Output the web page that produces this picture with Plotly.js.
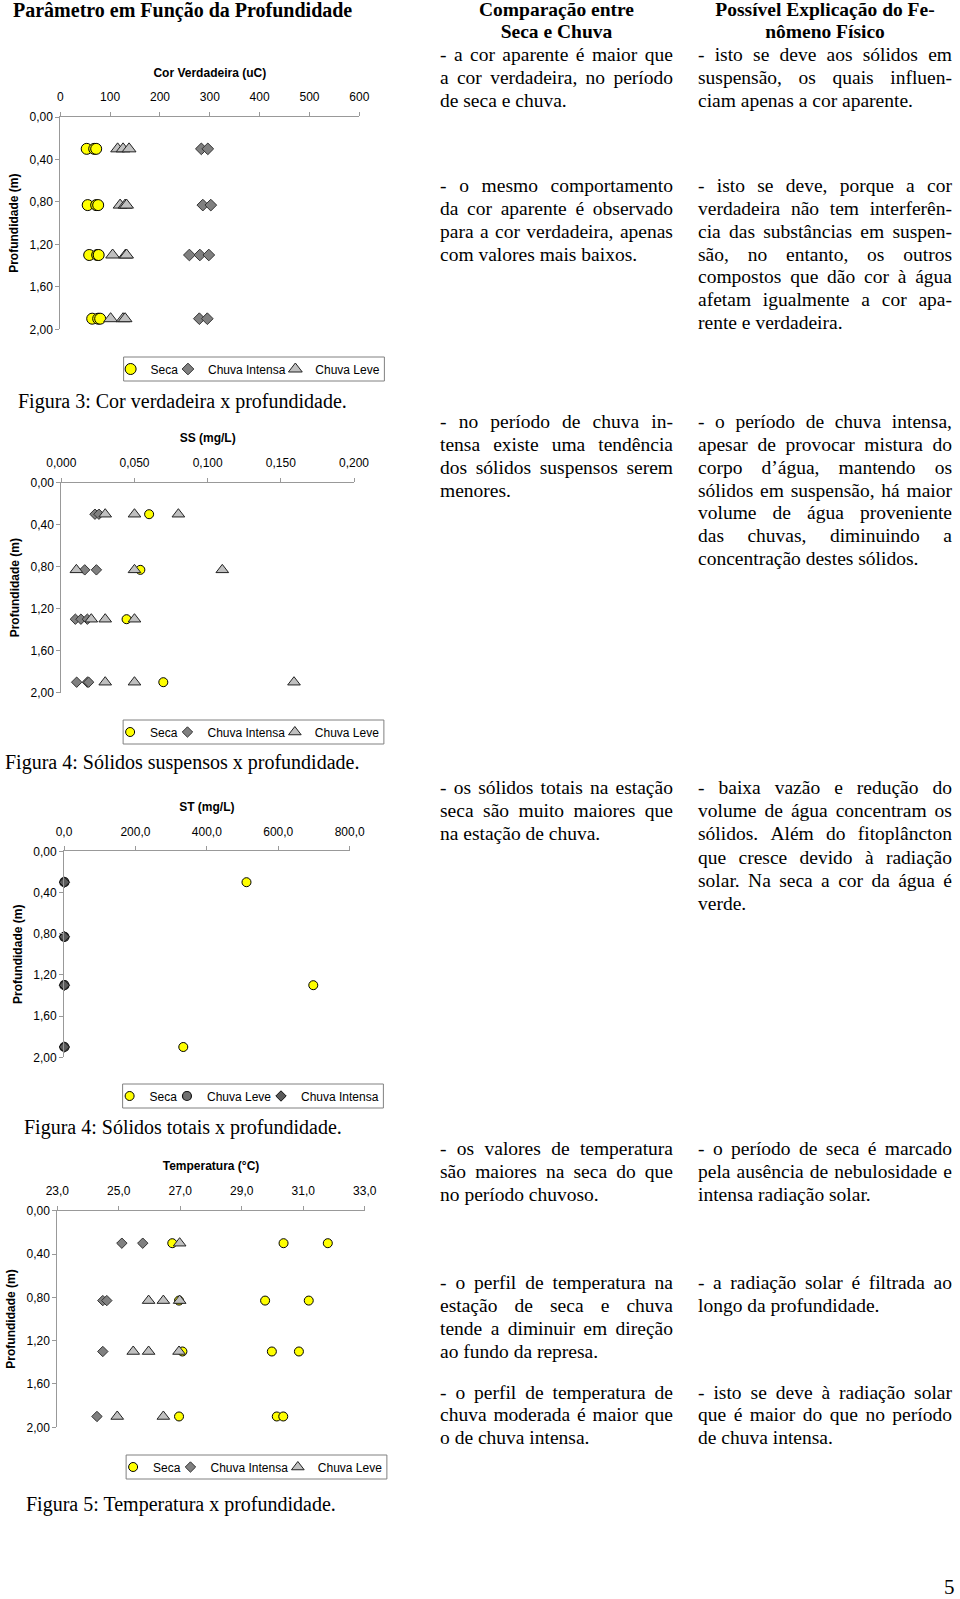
<!DOCTYPE html>
<html><head><meta charset="utf-8">
<script src="https://cdn.plot.ly/plotly-3.0.1.min.js"></script>
<style>
html,body{margin:0;padding:0;background:#fff;}
#page{position:relative;width:960px;height:1599px;overflow:hidden;background:#fff;}
#chart{position:absolute;left:0;top:0;width:960px;height:1599px;}
.txt{position:absolute;font-family:'Liberation Serif','Times New Roman',serif;font-size:19.5px;line-height:23px;color:#000;white-space:nowrap;}
.jl{display:flex;justify-content:space-between;}
.hd{font-weight:bold;text-align:center;}
</style>
</head><body>
<div id="page"><div id="chart"></div></div>
<script>
// ---------------- DATA ----------------
// Figura 3: Cor verdadeira (uC) x profundidade (m)
const corSecaX    = [53, 68, 72, 55, 72, 76, 58, 74, 77, 64, 76, 80];
const corSecaY    = [0.30, 0.30, 0.30, 0.83, 0.83, 0.83, 1.30, 1.30, 1.30, 1.90, 1.90, 1.90];
const corIntensaX = [283, 296, 286, 302, 259, 280, 298, 279, 295];
const corIntensaY = [0.30, 0.30, 0.83, 0.83, 1.30, 1.30, 1.30, 1.90, 1.90];
const corLeveX    = [115, 126, 138, 120, 130, 133, 105, 131, 133, 101, 126, 130];
const corLeveY    = [0.30, 0.30, 0.30, 0.83, 0.83, 0.83, 1.30, 1.30, 1.30, 1.90, 1.90, 1.90];

// Figura 4: Sólidos suspensos SS (mg/L) x profundidade
const ssSecaX    = [0.060, 0.054, 0.0446, 0.0697];
const ssSecaY    = [0.30, 0.83, 1.30, 1.90];
const ssIntensaX = [0.023, 0.0257, 0.016, 0.024, 0.0096, 0.0134, 0.0178, 0.0105, 0.0178, 0.0187];
const ssIntensaY = [0.30, 0.30, 0.83, 0.83, 1.30, 1.30, 1.30, 1.90, 1.90, 1.90];
const ssLeveX    = [0.030, 0.050, 0.080, 0.0103, 0.050, 0.110, 0.0205, 0.030, 0.050, 0.030, 0.050, 0.159];
const ssLeveY    = [0.30, 0.30, 0.30, 0.83, 0.83, 0.83, 1.30, 1.30, 1.30, 1.90, 1.90, 1.90];

// Figura 4: Sólidos totais ST (mg/L) x profundidade
const stSecaX    = [511, 698, 334];
const stSecaY    = [0.30, 1.30, 1.90];
const stLeveX    = [1, 1, 1, 1];
const stLeveY    = [0.30, 0.83, 1.30, 1.90];
const stIntensaX = [1, 1, 1, 1];
const stIntensaY = [0.30, 0.83, 1.30, 1.90];

// Figura 5: Temperatura (°C) x profundidade
const tSecaX    = [26.74, 30.36, 31.80, 26.96, 29.76, 31.18, 27.07, 29.98, 30.86, 26.96, 30.14, 30.35];
const tSecaY    = [0.30, 0.30, 0.30, 0.83, 0.83, 0.83, 1.30, 1.30, 1.30, 1.90, 1.90, 1.90];
const tIntensaX = [25.10, 25.78, 24.48, 24.61, 24.48, 24.29];
const tIntensaY = [0.30, 0.30, 0.83, 0.83, 1.30, 1.90];
const tLeveX    = [26.98, 25.97, 26.45, 26.98, 25.47, 25.97, 26.96, 24.95, 26.45];
const tLeveY    = [0.30, 0.83, 0.83, 0.83, 1.30, 1.30, 1.30, 1.90, 1.90];

const serieNomes = ['Seca', 'Chuva Intensa', 'Chuva Leve'];
const depthTicks = [0, 0.4, 0.8, 1.2, 1.6, 2.0];

// ---------------- LAYOUT HELPERS ----------------
const W = 960, H = 1599;
const px = p => p / W;
const py = p => 1 - p / H;
const SANS = 'Liberation Sans, Arial, sans-serif';
const SERIF = 'Liberation Serif, Times New Roman, serif';
const AX = '#999999';

const mSeca = {symbol:'circle', color:'#ffff00', size:11, line:{color:'#000', width:1}};
const mInt  = {symbol:'diamond', color:'#808080', size:9, line:{color:'#333', width:1}};
const mLeve = {symbol:'triangle-up', color:'#c0c0c0', size:12, line:{color:'#222', width:1}};

function tr(x, y, name, marker, n){
  return {type:'scatter', mode:'markers', x:x, y:y, name:name, marker:marker, cliponaxis:false,
          xaxis:'x'+(n===1?'':n), yaxis:'y'+(n===1?'':n), hoverinfo:'x+y'};
}
const data = [
  tr(corSecaX, corSecaY, serieNomes[0], mSeca, 1),
  tr(corIntensaX, corIntensaY, serieNomes[1], mInt, 1),
  tr(corLeveX, corLeveY, serieNomes[2], mLeve, 1),
  tr(ssSecaX, ssSecaY, serieNomes[0], Object.assign({}, mSeca, {size:9}), 2),
  tr(ssIntensaX, ssIntensaY, serieNomes[1], Object.assign({}, mInt, {size:8}), 2),
  tr(ssLeveX, ssLeveY, serieNomes[2], Object.assign({}, mLeve, {size:11}), 2),
  tr(stSecaX, stSecaY, 'Seca', Object.assign({}, mSeca, {size:9}), 3),
  tr(stLeveX, stLeveY, 'Chuva Leve', {symbol:'circle', color:'#707070', size:9, line:{color:'#111', width:1.2}}, 3),
  tr(stIntensaX, stIntensaY, 'Chuva Intensa', {symbol:'diamond', color:'#5a5a5a', size:8, line:{color:'#111', width:1}}, 3),
  tr(tSecaX, tSecaY, serieNomes[0], Object.assign({}, mSeca, {size:9}), 4),
  tr(tIntensaX, tIntensaY, serieNomes[1], Object.assign({}, mInt, {size:8}), 4),
  tr(tLeveX, tLeveY, serieNomes[2], Object.assign({}, mLeve, {size:11}), 4)
];

function xax(x0, x1, yAnchor, range, dtick, fmt, title){
  return {domain:[px(x0), px(x1)], anchor:yAnchor, side:'top', range:range, dtick:dtick, tick0:range[0],
    tickformat:fmt, showline:true, linecolor:AX, linewidth:1, ticks:'outside', ticklen:4, tickcolor:AX,
    showgrid:false, zeroline:false, fixedrange:true, ticklabelstandoff:6,
    tickfont:{family:SANS, size:12, color:'#000'},
    title:{text:'<b>'+title+'</b>', font:{family:SANS, size:12, color:'#000'}, standoff:10}};
}
function yax(y0, y1, xAnchor){
  return {domain:[py(y1), py(y0)], anchor:xAnchor, range:[2, 0], tickvals:depthTicks, tickformat:'.2f',
    showline:true, linecolor:AX, linewidth:1, ticks:'outside', ticklen:4, tickcolor:AX,
    showgrid:false, zeroline:false, fixedrange:true,
    tickfont:{family:SANS, size:12, color:'#000'},
    title:{text:'<b>Profundidade (m)</b>', font:{family:SANS, size:12, color:'#000'}, standoff:8}};
}
function cap(text, x, y, size, bold){
  return {text: bold ? '<b>'+text+'</b>' : text, xref:'paper', yref:'paper', x:px(x), y:py(y),
    xanchor:'left', yanchor:'middle', showarrow:false, font:{family:SERIF, size:size, color:'#000'}};
}

const layout = {
  width:W, height:H, margin:{l:0, r:0, t:0, b:0}, paper_bgcolor:'#fff', plot_bgcolor:'rgba(0,0,0,0)',
  separators:',.', showlegend:true, hovermode:'closest',
  xaxis:  xax(60.3, 359.3, 'y',  [0, 600], 100, 'd', 'Cor Verdadeira (uC)'),
  yaxis:  yax(117, 329.3, 'x'),
  xaxis2: xax(61.3, 354, 'y2', [0, 0.2], 0.05, '.3f', 'SS (mg/L)'),
  yaxis2: yax(482.7, 692.7, 'x2'),
  xaxis3: xax(64, 349.7, 'y3', [0, 800], 200, '.1f', 'ST (mg/L)'),
  yaxis3: yax(851.3, 1057.3, 'x3'),
  xaxis4: xax(57.3, 364.7, 'y4', [23, 33], 2, '.1f', 'Temperatura (°C)'),
  yaxis4: yax(1210.7, 1427.3, 'x4'),
  shapes: [],
  annotations:[
    cap('Parâmetro em Função da Profundidade', 11, 10.5, 20, true),
    cap('Figura 3: Cor verdadeira x profundidade.', 16, 401.5, 20, false),
    cap('Figura 4: Sólidos suspensos x profundidade.', 3, 762.5, 20, false),
    cap('Figura 4: Sólidos totais x profundidade.', 22, 1127, 20, false),
    cap('Figura 5: Temperatura x profundidade.', 24, 1504, 20, false),
    {text:'5', xref:'paper', yref:'paper', x:px(957), y:py(1587), xanchor:'right', yanchor:'middle',
     showarrow:false, font:{family:SERIF, size:21, color:'#000'}}
  ]
};

// Compact framed legends: one native legend per entry, framed by a rectangle
const legendSpecs = [
  {cx:254,   cy:369,  traces:[0, 1, 2]},
  {cx:253.5, cy:732,  traces:[3, 4, 5]},
  {cx:253,   cy:1096, traces:[6, 7, 8]},
  {cx:256.5, cy:1467, traces:[9, 10, 11]}
];
const ctx = document.createElement('canvas').getContext('2d');
ctx.font = '12px "Liberation Sans", Arial, sans-serif';
let legN = 1;
legendSpecs.forEach(s => {
  const ws = s.traces.map(t => ctx.measureText(data[t].name).width);
  const PADL = 7, SYM = 20, GAP = 10, PADR = 5;
  const total = PADL + SYM * ws.length + ws.reduce((a, b) => a + b, 0) + GAP * (ws.length - 1) + PADR;
  const F = s.cx - total / 2;
  let symC = F + PADL;
  s.traces.forEach((t, i) => {
    const key = 'legend' + (legN === 1 ? '' : legN);
    data[t].legend = key;
    layout[key] = {orientation:'h', x:px(symC - 20), xanchor:'left', y:py(s.cy), yanchor:'middle',
      borderwidth:0, bgcolor:'rgba(0,0,0,0)', itemwidth:30,
      font:{family:SANS, size:12, color:'#000'}, itemclick:false, itemdoubleclick:false};
    symC += SYM + ws[i] + GAP;
    legN++;
  });
  layout.shapes.push({type:'rect', xref:'paper', yref:'paper', layer:'below',
    x0:px(F), x1:px(F + total), y0:py(s.cy + 12), y1:py(s.cy - 12),
    line:{color:'#808080', width:1}, fillcolor:'#fff'});
});

Plotly.newPlot('chart', data, layout, {displayModeBar:false});

// ---------------- SIDE TEXT ----------------
const COLS = {1:{left:440, width:233}, 2:{left:698, width:254}};
const blocks = [
  {col:1, y:10, step:22.3, head:true, lines:['Comparação entre','Seca e Chuva']},
  {col:2, y:10, step:22.3, head:true, lines:['Possível Explicação do Fe-','nômeno Físico']},
  {col:1, y:55, step:23.3, lines:['- a cor aparente é maior que','a cor verdadeira, no período','de seca e chuva.']},
  {col:2, y:55, step:23.3, lines:['- isto se deve aos sólidos em','suspensão, os quais influen-','ciam apenas a cor aparente.']},
  {col:1, y:186.7, step:22.8, lines:['- o mesmo comportamento','da cor aparente é observado','para a cor verdadeira, apenas','com valores mais baixos.']},
  {col:2, y:186.7, step:22.8, lines:['- isto se deve, porque a cor','verdadeira não tem interferên-','cia das substâncias em suspen-','são, no entanto, os outros','compostos que dão cor à água','afetam igualmente a cor apa-','rente e verdadeira.']},
  {col:1, y:422.7, step:22.8, lines:['- no período de chuva in-','tensa existe uma tendência','dos sólidos suspensos serem','menores.']},
  {col:2, y:422.7, step:22.8, lines:['- o período de chuva intensa,','apesar de provocar mistura do','corpo d’água, mantendo os','sólidos em suspensão, há maior','volume de água proveniente','das chuvas, diminuindo a','concentração destes sólidos.']},
  {col:1, y:788.3, step:23.3, lines:['- os sólidos totais na estação','seca são muito maiores que','na estação de chuva.']},
  {col:2, y:788.3, step:23.3, lines:['- baixa vazão e redução do','volume de água concentram os','sólidos. Além do fitoplâncton','que cresce devido à radiação','solar. Na seca a cor da água é','verde.']},
  {col:1, y:1149.3, step:23.3, lines:['- os valores de temperatura','são maiores na seca do que','no período chuvoso.']},
  {col:2, y:1149.3, step:23.3, lines:['- o período de seca é marcado','pela ausência de nebulosidade e','intensa radiação solar.']},
  {col:1, y:1283.3, step:23.0, lines:['- o perfil de temperatura na','estação de seca e chuva','tende a diminuir em direção','ao fundo da represa.']},
  {col:2, y:1283.3, step:23.0, lines:['- a radiação solar é filtrada ao','longo da profundidade.']},
  {col:1, y:1393.3, step:22.5, lines:['- o perfil de temperatura de','chuva moderada é maior que','o de chuva intensa.']},
  {col:2, y:1393.3, step:22.5, lines:['- isto se deve à radiação solar','que é maior do que no período','de chuva intensa.']}
];
const page = document.getElementById('page');
blocks.forEach(b => {
  const c = COLS[b.col];
  b.lines.forEach((ln, i) => {
    const d = document.createElement('div');
    d.className = 'txt' + (b.head ? ' hd' : '');
    d.style.left = c.left + 'px';
    d.style.width = c.width + 'px';
    d.style.top = (b.y + i * b.step - 12.5) + 'px';
    const last = i === b.lines.length - 1;
    if (!b.head && !last) {
      d.classList.add('jl');
      ln.split(' ').forEach(w => { const s = document.createElement('span'); s.textContent = w; d.appendChild(s); });
    } else {
      d.textContent = ln;
    }
    page.appendChild(d);
  });
});
</script>
</body></html>
